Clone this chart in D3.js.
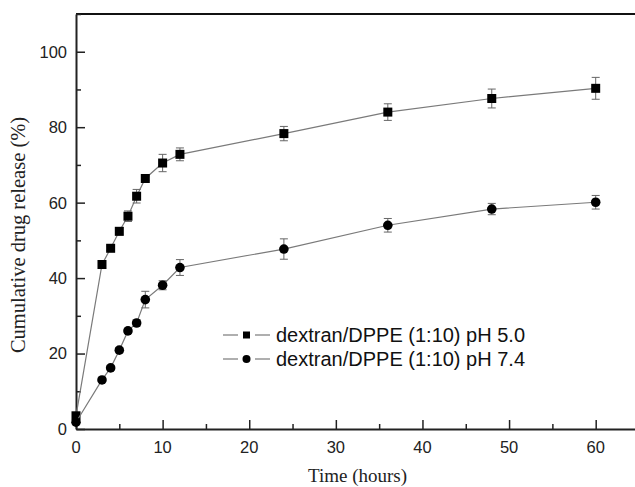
<!DOCTYPE html>
<html>
<head>
<meta charset="utf-8">
<script src="https://cdn.jsdelivr.net/npm/d3@7"></script>
<style>
  body { margin: 0; background: #fff; }
  svg { display: block; }
</style>
</head>
<body>
<div id="chart"></div>
<script>
// release data
const timeHours = [0, 3, 4, 5, 6, 7, 8, 10, 12, 24, 36, 48, 60];
const releasePH50 = [3.5, 43.6, 47.9, 52.4, 56.4, 61.7, 66.4, 70.5, 72.8, 78.3, 84.0, 87.6, 90.3];
const errorPH50 = [0.4, 0.4, 0.6, 1.0, 1.4, 1.8, 0.5, 2.3, 1.7, 1.9, 2.2, 2.5, 2.9];
const releasePH74 = [1.8, 13.0, 16.2, 20.9, 26.0, 28.1, 34.3, 38.1, 42.8, 47.7, 54.0, 58.3, 60.1];
const errorPH74 = [0.4, 0.5, 0.6, 0.7, 0.7, 0.8, 2.2, 1.2, 2.1, 2.7, 1.8, 1.5, 1.8];
const seriesNames = ["dextran/DPPE (1:10) pH 5.0", "dextran/DPPE (1:10) pH 7.4"];
const xTicks = [0, 10, 20, 30, 40, 50, 60];
const yTicks = [0, 20, 40, 60, 80, 100];

const W = 635, H = 487;
const margin = { top: 14, left: 76, bottom: 58 };
const plotRight = 639;  // frame runs slightly past the window edge

const svg = d3.select("#chart").append("svg")
    .attr("width", W)
    .attr("height", H);

const x = d3.scaleLinear().domain([0, 65]).range([margin.left, plotRight]);
const y = d3.scaleLinear().domain([0, 110]).range([H - margin.bottom, margin.top]);

const lineColor = "#7a7a7a";
const errColor = "#666";

// top border of the frame
svg.append("line")
    .attr("x1", margin.left).attr("x2", plotRight)
    .attr("y1", y(110)).attr("y2", y(110))
    .attr("stroke", "#111").attr("stroke-width", 2);

// axes with inward ticks
const xAxis = svg.append("g")
    .attr("transform", `translate(0,${y(0)})`)
    .call(d3.axisBottom(x).tickValues(d3.range(0, 66, 5)).tickSize(0).tickFormat(""));
xAxis.select(".domain").attr("stroke", "#222").attr("stroke-width", 2);
xAxis.selectAll(".tick line")
    .attr("y2", d => d % 10 === 0 ? -9 : -5)
    .attr("stroke", "#222").attr("stroke-width", 1.5);

svg.append("g").selectAll("text")
    .data(xTicks).join("text")
    .attr("x", d => x(d))
    .attr("y", y(0) + 24)
    .attr("text-anchor", "middle")
    .attr("font-family", "Liberation Sans, Arial, sans-serif")
    .attr("font-size", 16.5)
    .attr("fill", "#222")
    .text(d => d);

const yAxis = svg.append("g")
    .attr("transform", `translate(${margin.left},0)`)
    .call(d3.axisLeft(y).tickValues(d3.range(0, 111, 10)).tickSize(0).tickFormat(""));
yAxis.select(".domain").attr("stroke", "#222").attr("stroke-width", 2);
yAxis.selectAll(".tick line")
    .attr("x2", d => d % 20 === 0 ? 9 : 5)
    .attr("stroke", "#222").attr("stroke-width", 1.5);

svg.append("g").selectAll("text")
    .data(yTicks).join("text")
    .attr("x", margin.left - 9)
    .attr("y", d => y(d))
    .attr("dy", "0.36em")
    .attr("text-anchor", "end")
    .attr("font-family", "Liberation Sans, Arial, sans-serif")
    .attr("font-size", 16.5)
    .attr("fill", "#222")
    .text(d => d);

// axis titles
svg.append("text")
    .attr("x", (margin.left + plotRight) / 2)
    .attr("y", 482)
    .attr("text-anchor", "middle")
    .attr("font-family", "Liberation Serif, Times New Roman, serif")
    .attr("font-size", 19)
    .attr("fill", "#222")
    .text("Time (hours)");

svg.append("text")
    .attr("transform", "translate(25,235) rotate(-90)")
    .attr("text-anchor", "middle")
    .attr("font-family", "Liberation Serif, Times New Roman, serif")
    .attr("font-size", 20.5)
    .attr("fill", "#222")
    .text("Cumulative drug release (%)");

// series
const series = [
    { name: seriesNames[0], values: releasePH50, errs: errorPH50, shape: "square" },
    { name: seriesNames[1], values: releasePH74, errs: errorPH74, shape: "circle" }
];

const line = d3.line().x(d => x(d.t)).y(d => y(d.v));

series.forEach(s => {
    const pts = timeHours.map((t, i) => ({ t, v: s.values[i], e: s.errs[i] }));
    const g = svg.append("g");

    g.append("path")
        .datum(pts)
        .attr("d", line)
        .attr("fill", "none")
        .attr("stroke", lineColor)
        .attr("stroke-width", 1.2);

    // error bars
    const eb = g.selectAll(".err").data(pts).join("g").attr("class", "err")
        .attr("stroke", errColor).attr("stroke-width", 1);
    eb.append("line")
        .attr("x1", d => x(d.t)).attr("x2", d => x(d.t))
        .attr("y1", d => y(d.v - d.e)).attr("y2", d => y(d.v + d.e));
    eb.append("line")
        .attr("x1", d => x(d.t) - 4).attr("x2", d => x(d.t) + 4)
        .attr("y1", d => y(d.v + d.e)).attr("y2", d => y(d.v + d.e));
    eb.append("line")
        .attr("x1", d => x(d.t) - 4).attr("x2", d => x(d.t) + 4)
        .attr("y1", d => y(d.v - d.e)).attr("y2", d => y(d.v - d.e));

    if (s.shape === "square") {
        g.selectAll("rect").data(pts).join("rect")
            .attr("x", d => x(d.t) - 4.5)
            .attr("y", d => y(d.v) - 4.5)
            .attr("width", 9).attr("height", 9)
            .attr("fill", "#000");
    } else {
        g.selectAll("circle").data(pts).join("circle")
            .attr("cx", d => x(d.t))
            .attr("cy", d => y(d.v))
            .attr("r", 4.8)
            .attr("fill", "#000");
    }
});

// legend
const legend = svg.append("g").attr("transform", "translate(223,335)");
series.forEach((s, i) => {
    const row = legend.append("g").attr("transform", `translate(0,${i * 24})`);
    row.append("line").attr("x1", 0).attr("x2", 15).attr("y1", 0).attr("y2", 0)
        .attr("stroke", lineColor).attr("stroke-width", 1.2);
    row.append("line").attr("x1", 32).attr("x2", 47).attr("y1", 0).attr("y2", 0)
        .attr("stroke", lineColor).attr("stroke-width", 1.2);
    if (s.shape === "square") {
        row.append("rect").attr("x", 20).attr("y", -3.5).attr("width", 7).attr("height", 7).attr("fill", "#000");
    } else {
        row.append("circle").attr("cx", 23.5).attr("cy", 0).attr("r", 4).attr("fill", "#000");
    }
    row.append("text")
        .attr("x", 53)
        .attr("y", 0)
        .attr("dy", "0.36em")
        .attr("font-family", "Liberation Sans, Arial, sans-serif")
        .attr("font-size", 20)
        .attr("fill", "#111")
        .text(s.name);
});
</script>
</body>
</html>
